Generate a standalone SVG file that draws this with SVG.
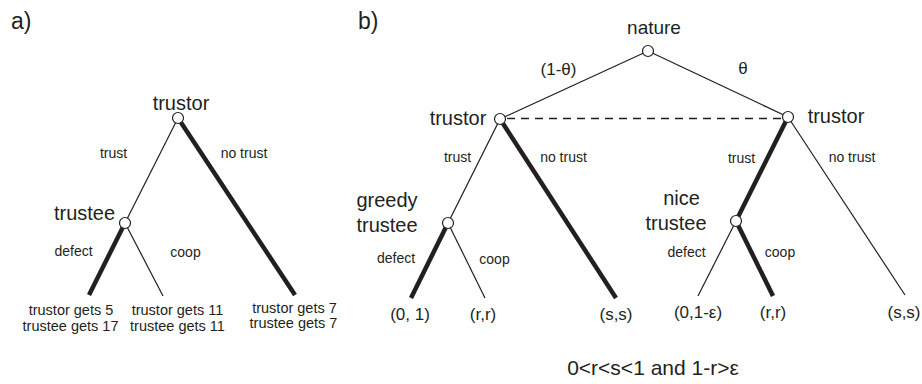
<svg xmlns="http://www.w3.org/2000/svg" width="922" height="384" viewBox="0 0 922 384">
<style>
text{font-family:"Liberation Sans",Arial,sans-serif;fill:#231f20;text-anchor:middle}
.panel{font-size:23px;text-anchor:start}
.nn{font-size:20px}
.el{font-size:14px}
.po{font-size:14.5px}
.pb{font-size:17px}
.cn{font-size:21px}
.thin{stroke:#231f20;stroke-width:1.2;fill:none}
.thick{stroke:#231f20;stroke-width:4.5;fill:none}
.dash{stroke:#231f20;stroke-width:1.3;stroke-dasharray:8 6;fill:none}
.node{fill:#fff;stroke:#231f20;stroke-width:1.2}
</style>
<rect width="922" height="384" fill="#fff"/>
<text class="panel" x="11" y="29">a)</text>
<text class="panel" x="358" y="29">b)</text>
<g id="connectors">
<line class="thin" x1="178" y1="118" x2="125" y2="223"/>
<line class="thick" x1="178" y1="118" x2="295" y2="295"/>
<line class="thick" x1="125" y1="223" x2="89" y2="295"/>
<line class="thin" x1="125" y1="223" x2="163" y2="296"/>
<line class="thin" x1="648" y1="51" x2="500" y2="119"/>
<line class="thin" x1="648" y1="51" x2="788" y2="117"/>
<line class="dash" x1="507" y1="118.5" x2="781" y2="118.5"/>
<line class="thin" x1="500" y1="119" x2="448" y2="223"/>
<line class="thick" x1="500" y1="119" x2="616" y2="298"/>
<line class="thick" x1="448" y1="223" x2="411" y2="298"/>
<line class="thin" x1="448" y1="223" x2="485" y2="298"/>
<line class="thick" x1="788" y1="117" x2="736" y2="221"/>
<line class="thin" x1="788" y1="117" x2="905" y2="295"/>
<line class="thin" x1="736" y1="221" x2="698" y2="296"/>
<line class="thick" x1="736" y1="221" x2="773" y2="296"/>
<text class="el" x="113.5" y="158">trust</text>
<text class="el" x="244" y="158">no trust</text>
<text class="el" x="73.5" y="256">defect</text>
<text class="el" x="185.5" y="257">coop</text>
<text class="pb" x="558.5" y="75">(1-θ)</text>
<text class="pb" x="743" y="74">θ</text>
<text class="el" x="457.5" y="162">trust</text>
<text class="el" x="563.5" y="162">no trust</text>
<text class="el" x="396" y="263">defect</text>
<text class="el" x="494.5" y="264">coop</text>
<text class="el" x="741.5" y="163">trust</text>
<text class="el" x="852" y="162">no trust</text>
<text class="el" x="686.5" y="257">defect</text>
<text class="el" x="780" y="257">coop</text>
</g>
<g id="a-trustor"><circle class="node" cx="178" cy="118" r="5.5"/><text class="nn" x="181" y="110">trustor</text></g>
<g id="a-trustee"><circle class="node" cx="125" cy="223" r="5.5"/><text class="nn" x="84.5" y="220">trustee</text></g>
<g id="a-leaf1"><text class="po" x="71" y="315">trustor gets 5</text><text class="po" x="70.5" y="331">trustee gets 17</text></g>
<g id="a-leaf2"><text class="po" x="177.5" y="315">trustor gets 11</text><text class="po" x="177.5" y="331">trustee gets 11</text></g>
<g id="a-leaf3"><text class="po" x="294.5" y="313">trustor gets 7</text><text class="po" x="293.5" y="328">trustee gets 7</text></g>
<g id="b-nature"><circle class="node" cx="648" cy="51" r="5.5"/><text class="nn" x="654" y="34" style="font-size:19px">nature</text></g>
<g id="b-trustor-left"><circle class="node" cx="500" cy="119" r="5.5"/><text class="nn" x="458" y="125">trustor</text></g>
<g id="b-trustor-right"><circle class="node" cx="788" cy="117" r="5.5"/><text class="nn" x="836" y="123">trustor</text></g>
<g id="b-greedy"><circle class="node" cx="448" cy="223" r="5.5"/><text class="nn" x="387" y="207">greedy</text><text class="nn" x="387" y="232">trustee</text></g>
<g id="b-nice"><circle class="node" cx="736" cy="221" r="5.5"/><text class="nn" x="681.5" y="205">nice</text><text class="nn" x="676" y="230">trustee</text></g>
<g id="b-leaf1"><text class="pb" x="410" y="320">(0, 1)</text></g>
<g id="b-leaf2"><text class="pb" x="483" y="320">(r,r)</text></g>
<g id="b-leaf3"><text class="pb" x="616" y="320">(s,s)</text></g>
<g id="b-leaf4"><text class="pb" x="698" y="318">(0,1-ε)</text></g>
<g id="b-leaf5"><text class="pb" x="773" y="318">(r,r)</text></g>
<g id="b-leaf6"><text class="pb" x="904" y="318">(s,s)</text></g>
<text class="cn" x="653" y="375">0&lt;r&lt;s&lt;1 and 1-r&gt;ε</text>
</svg>
